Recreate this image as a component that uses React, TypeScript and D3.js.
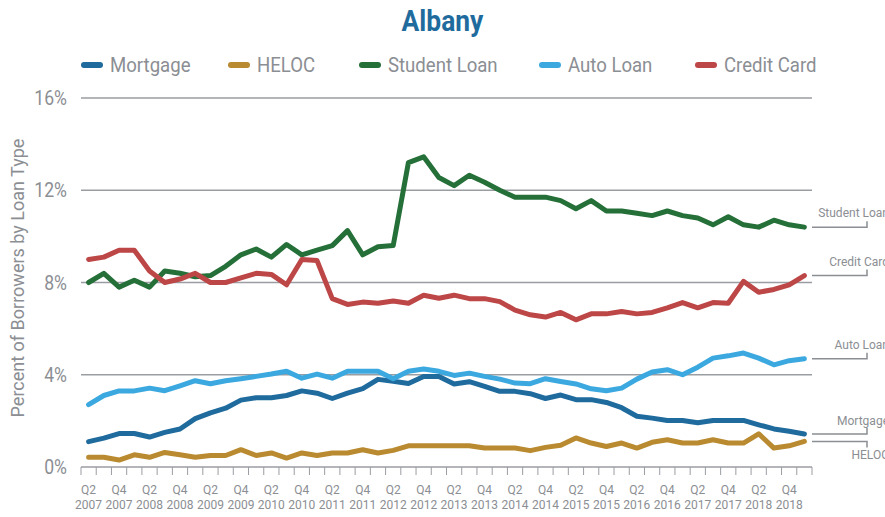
import * as d3 from 'd3';

const quarters = [
  'Q2 2007', 'Q3 2007', 'Q4 2007', 'Q1 2008', 'Q2 2008', 'Q3 2008', 'Q4 2008', 'Q1 2009',
  'Q2 2009', 'Q3 2009', 'Q4 2009', 'Q1 2010', 'Q2 2010', 'Q3 2010', 'Q4 2010', 'Q1 2011',
  'Q2 2011', 'Q3 2011', 'Q4 2011', 'Q1 2012', 'Q2 2012', 'Q3 2012', 'Q4 2012', 'Q1 2013',
  'Q2 2013', 'Q3 2013', 'Q4 2013', 'Q1 2014', 'Q2 2014', 'Q3 2014', 'Q4 2014', 'Q1 2015',
  'Q2 2015', 'Q3 2015', 'Q4 2015', 'Q1 2016', 'Q2 2016', 'Q3 2016', 'Q4 2016', 'Q1 2017',
  'Q2 2017', 'Q3 2017', 'Q4 2017', 'Q1 2018', 'Q2 2018', 'Q3 2018', 'Q4 2018', 'Q1 2019',
];

const mortgage = [
  1.1, 1.25, 1.45, 1.45, 1.3, 1.5, 1.65, 2.1, 2.35, 2.55,
  2.9, 3.0, 3.0, 3.1, 3.3, 3.2, 2.97, 3.2, 3.4, 3.8,
  3.72, 3.62, 3.92, 3.92, 3.6, 3.7, 3.5, 3.28, 3.28, 3.18,
  2.97, 3.12, 2.92, 2.92, 2.8, 2.57, 2.2, 2.12, 2.02, 2.02,
  1.92, 2.02, 2.02, 2.02, 1.83, 1.65, 1.55, 1.43,
];
const heloc = [
  0.42, 0.42, 0.3, 0.53, 0.42, 0.63, 0.53, 0.42, 0.5, 0.5,
  0.75, 0.5, 0.61, 0.39, 0.61, 0.5, 0.61, 0.61, 0.75, 0.61,
  0.72, 0.92, 0.92, 0.92, 0.92, 0.92, 0.82, 0.82, 0.82, 0.71,
  0.85, 0.94, 1.26, 1.04, 0.89, 1.04, 0.82, 1.07, 1.18, 1.04,
  1.04, 1.18, 1.04, 1.04, 1.44, 0.82, 0.92, 1.11,
];
const studentLoan = [
  8.0, 8.4, 7.8, 8.1, 7.8, 8.5, 8.4, 8.25, 8.3, 8.7,
  9.2, 9.45, 9.1, 9.65, 9.2, 9.4, 9.6, 10.25, 9.2, 9.55,
  9.6, 13.2, 13.45, 12.55, 12.2, 12.65, 12.35, 12.0, 11.7, 11.7,
  11.7, 11.55, 11.2, 11.55, 11.1, 11.1, 11.0, 10.9, 11.1, 10.9,
  10.8, 10.5, 10.85, 10.5, 10.4, 10.7, 10.5, 10.4,
];
const autoLoan = [
  2.7, 3.1, 3.3, 3.3, 3.42, 3.31, 3.52, 3.74, 3.61, 3.74,
  3.83, 3.93, 4.03, 4.15, 3.85, 4.03, 3.85, 4.15, 4.15, 4.15,
  3.83, 4.15, 4.25, 4.15, 3.97, 4.07, 3.93, 3.81, 3.64, 3.61,
  3.83, 3.71, 3.6, 3.39, 3.31, 3.42, 3.81, 4.12, 4.22, 4.0,
  4.33, 4.72, 4.82, 4.94, 4.72, 4.43, 4.61, 4.69,
];
const creditCard = [
  9.0, 9.1, 9.4, 9.4, 8.5, 8.0, 8.15, 8.4, 8.0, 8.0,
  8.2, 8.4, 8.35, 7.9, 9.0, 8.95, 7.3, 7.05, 7.15, 7.1,
  7.2, 7.1, 7.45, 7.32, 7.45, 7.3, 7.3, 7.17, 6.8, 6.6,
  6.5, 6.7, 6.38, 6.64, 6.64, 6.74, 6.64, 6.7, 6.9, 7.13,
  6.9, 7.13, 7.1, 8.05, 7.58, 7.7, 7.9, 8.3,
];

const seriesNames = ['Mortgage', 'HELOC', 'Student Loan', 'Auto Loan', 'Credit Card'];
const seriesValues = [mortgage, heloc, studentLoan, autoLoan, creditCard];
const seriesColors = ['#1f6b9d', '#b98a2f', '#256f38', '#3ba8df', '#bd4646'];
const yTicks = [0, 4, 8, 12, 16];

// layout
const W = 885;
const H = 517;
const plot = { left: 81, right: 812, top: 98, bottom: 467 };
const legendX = [81, 228, 359, 539, 695];
const endLabelDy = [-9, 18, -10, -10, -10];
const gray = '#8b8e93';
const font = 'Roboto, sans-serif';

const CText = ({ x, y, size, sx = 0.88, anchor = 'start', fill = gray, weight = 400, children }: any) => (
  <text
    transform={`translate(${x},${y}) scale(${sx},1)`}
    fontSize={size}
    textAnchor={anchor}
    fill={fill}
    fontWeight={weight}
    fontFamily={font}
  >
    {children}
  </text>
);

const App = () => {
  const x = d3.scaleBand<string>().domain(quarters).range([plot.left, plot.right]).padding(0);
  const y = d3.scaleLinear().domain([0, 16]).range([plot.bottom, plot.top]);
  const bw = x.bandwidth();
  const cx = (i: number) => (x(quarters[i]) as number) + bw / 2;

  const line = d3
    .line<number>()
    .x((_, i) => cx(i))
    .y((d) => y(d));

  const last = quarters.length - 1;

  return (
    <svg width={W} height={H} style={{ position: 'absolute', left: 0, top: 0 }}>
      <rect width={W} height={H} fill="#fff" />
      <CText x={W / 2} y={31} size={30} anchor="middle" fill="#1f6b9d" weight={700}>
        Albany
      </CText>

      {seriesNames.map((name, k) => (
        <g key={name}>
          <line
            x1={legendX[k] + 3}
            x2={legendX[k] + 19}
            y1={65}
            y2={65}
            stroke={seriesColors[k]}
            strokeWidth={6}
            strokeLinecap="round"
          />
          <CText x={legendX[k] + 29} y={72} size={20} sx={0.93}>
            {name}
          </CText>
        </g>
      ))}

      {yTicks.map((t) => (
        <g key={t}>
          {t > 0 && (
            <line x1={plot.left} x2={plot.right} y1={y(t)} y2={y(t)} stroke="#9a9da2" strokeWidth={1.5} />
          )}
          <CText x={67} y={y(t) + 7} size={20} anchor="end">
            {`${t}%`}
          </CText>
        </g>
      ))}

      <g transform={`translate(24,278) rotate(-90)`}>
        <CText x={0} y={0} size={18} sx={1} anchor="middle">
          Percent of Borrowers by Loan Type
        </CText>
      </g>

      <line x1={plot.left} x2={plot.right} y1={plot.bottom} y2={plot.bottom} stroke="#9a9da2" strokeWidth={1.5} />
      {quarters.concat(['end']).map((q, i) => {
        const tx = plot.left + i * bw;
        return <line key={q} x1={tx} x2={tx} y1={plot.bottom} y2={plot.bottom + 8} stroke="#9a9da2" strokeWidth={1} />;
      })}
      {quarters.map((q, i) =>
        i % 2 === 0 ? (
          <text key={q} x={cx(i)} textAnchor="middle" fontSize={12} fill={gray} fontFamily={font}>
            <tspan x={cx(i)} y={494}>{q.split(' ')[0]}</tspan>
            <tspan x={cx(i)} y={509}>{q.split(' ')[1]}</tspan>
          </text>
        ) : null
      )}

      {seriesValues.map((vals, k) => (
        <path
          key={seriesNames[k]}
          d={line(vals) || ''}
          fill="none"
          stroke={seriesColors[k]}
          strokeWidth={5}
          strokeLinejoin="round"
          strokeLinecap="round"
        />
      ))}

      {seriesValues.map((vals, k) => {
        const ly = y(vals[last]);
        const down = endLabelDy[k] > 0;
        return (
          <g key={seriesNames[k]}>
            <polyline
              points={`${plot.right},${ly} 867,${ly} 867,${ly + (down ? 6 : -6)}`}
              fill="none"
              stroke={gray}
              strokeWidth={1.5}
            />
            <text x={889} y={ly + endLabelDy[k]} textAnchor="end" fontSize={12} fill={gray} fontFamily={font}>
              {seriesNames[k]}
            </text>
          </g>
        );
      })}
    </svg>
  );
};

export default App;
